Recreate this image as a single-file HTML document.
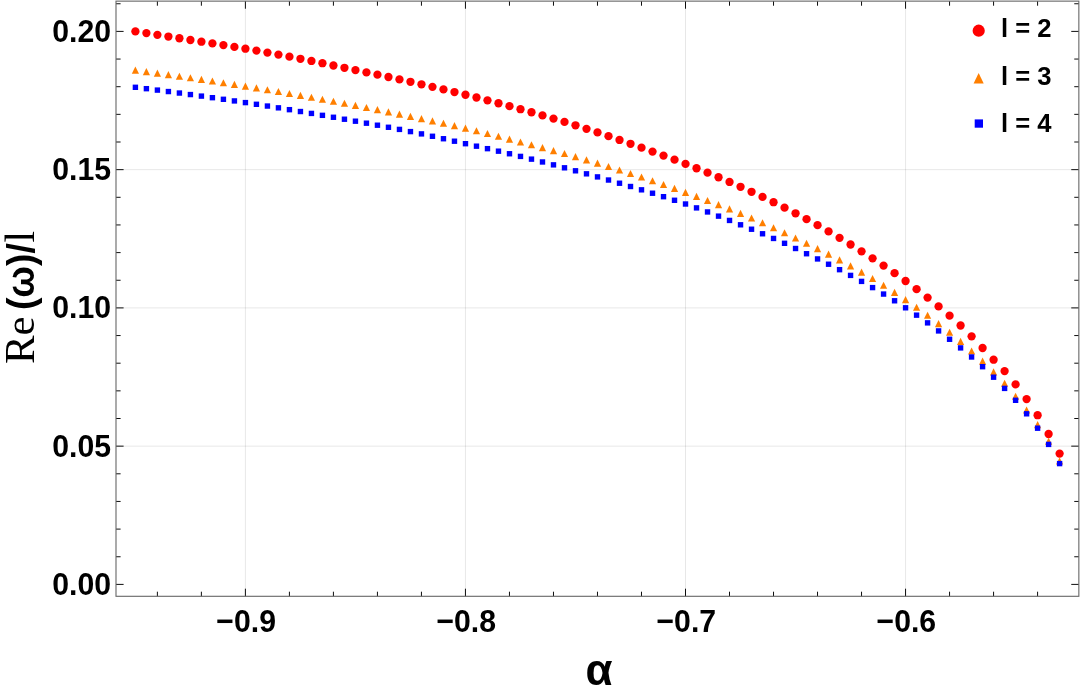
<!DOCTYPE html>
<html><head><meta charset="utf-8"><title>Re(w)/l vs alpha</title>
<style>html,body{margin:0;padding:0;background:#fff;}svg{display:block;will-change:transform;}text{font-family:"Liberation Sans",sans-serif;fill:#000;}.b{font-weight:bold;}.s{font-family:"Liberation Serif",serif;font-weight:normal;}</style></head><body>
<svg width="1080" height="694" viewBox="0 0 1080 694">
<rect x="0" y="0" width="1080" height="694" fill="#ffffff"/>
<g stroke="#000" stroke-opacity="0.095" stroke-width="1" fill="none">
<line x1="245.40" y1="1.13" x2="245.40" y2="596.3"/>
<line x1="465.45" y1="1.13" x2="465.45" y2="596.3"/>
<line x1="685.50" y1="1.13" x2="685.50" y2="596.3"/>
<line x1="905.55" y1="1.13" x2="905.55" y2="596.3"/>
<line x1="116.0" y1="446.15" x2="1078.85" y2="446.15"/>
<line x1="116.0" y1="307.90" x2="1078.85" y2="307.90"/>
<line x1="116.0" y1="169.65" x2="1078.85" y2="169.65"/>
</g>
<g stroke="#000" stroke-width="0.95" fill="none">
<line x1="157.38" y1="596.3" x2="157.38" y2="591.70"/>
<line x1="157.38" y1="1.13" x2="157.38" y2="5.73"/>
<line x1="201.39" y1="596.3" x2="201.39" y2="591.70"/>
<line x1="201.39" y1="1.13" x2="201.39" y2="5.73"/>
<line x1="245.40" y1="596.3" x2="245.40" y2="588.70"/>
<line x1="245.40" y1="1.13" x2="245.40" y2="8.73"/>
<line x1="289.41" y1="596.3" x2="289.41" y2="591.70"/>
<line x1="289.41" y1="1.13" x2="289.41" y2="5.73"/>
<line x1="333.42" y1="596.3" x2="333.42" y2="591.70"/>
<line x1="333.42" y1="1.13" x2="333.42" y2="5.73"/>
<line x1="377.43" y1="596.3" x2="377.43" y2="591.70"/>
<line x1="377.43" y1="1.13" x2="377.43" y2="5.73"/>
<line x1="421.44" y1="596.3" x2="421.44" y2="591.70"/>
<line x1="421.44" y1="1.13" x2="421.44" y2="5.73"/>
<line x1="465.45" y1="596.3" x2="465.45" y2="588.70"/>
<line x1="465.45" y1="1.13" x2="465.45" y2="8.73"/>
<line x1="509.46" y1="596.3" x2="509.46" y2="591.70"/>
<line x1="509.46" y1="1.13" x2="509.46" y2="5.73"/>
<line x1="553.47" y1="596.3" x2="553.47" y2="591.70"/>
<line x1="553.47" y1="1.13" x2="553.47" y2="5.73"/>
<line x1="597.48" y1="596.3" x2="597.48" y2="591.70"/>
<line x1="597.48" y1="1.13" x2="597.48" y2="5.73"/>
<line x1="641.49" y1="596.3" x2="641.49" y2="591.70"/>
<line x1="641.49" y1="1.13" x2="641.49" y2="5.73"/>
<line x1="685.50" y1="596.3" x2="685.50" y2="588.70"/>
<line x1="685.50" y1="1.13" x2="685.50" y2="8.73"/>
<line x1="729.51" y1="596.3" x2="729.51" y2="591.70"/>
<line x1="729.51" y1="1.13" x2="729.51" y2="5.73"/>
<line x1="773.52" y1="596.3" x2="773.52" y2="591.70"/>
<line x1="773.52" y1="1.13" x2="773.52" y2="5.73"/>
<line x1="817.53" y1="596.3" x2="817.53" y2="591.70"/>
<line x1="817.53" y1="1.13" x2="817.53" y2="5.73"/>
<line x1="861.54" y1="596.3" x2="861.54" y2="591.70"/>
<line x1="861.54" y1="1.13" x2="861.54" y2="5.73"/>
<line x1="905.55" y1="596.3" x2="905.55" y2="588.70"/>
<line x1="905.55" y1="1.13" x2="905.55" y2="8.73"/>
<line x1="949.56" y1="596.3" x2="949.56" y2="591.70"/>
<line x1="949.56" y1="1.13" x2="949.56" y2="5.73"/>
<line x1="993.57" y1="596.3" x2="993.57" y2="591.70"/>
<line x1="993.57" y1="1.13" x2="993.57" y2="5.73"/>
<line x1="1037.58" y1="596.3" x2="1037.58" y2="591.70"/>
<line x1="1037.58" y1="1.13" x2="1037.58" y2="5.73"/>
<line x1="116.0" y1="584.40" x2="123.60" y2="584.40"/>
<line x1="1078.85" y1="584.40" x2="1071.25" y2="584.40"/>
<line x1="116.0" y1="556.75" x2="120.60" y2="556.75"/>
<line x1="1078.85" y1="556.75" x2="1074.25" y2="556.75"/>
<line x1="116.0" y1="529.10" x2="120.60" y2="529.10"/>
<line x1="1078.85" y1="529.10" x2="1074.25" y2="529.10"/>
<line x1="116.0" y1="501.45" x2="120.60" y2="501.45"/>
<line x1="1078.85" y1="501.45" x2="1074.25" y2="501.45"/>
<line x1="116.0" y1="473.80" x2="120.60" y2="473.80"/>
<line x1="1078.85" y1="473.80" x2="1074.25" y2="473.80"/>
<line x1="116.0" y1="446.15" x2="123.60" y2="446.15"/>
<line x1="1078.85" y1="446.15" x2="1071.25" y2="446.15"/>
<line x1="116.0" y1="418.50" x2="120.60" y2="418.50"/>
<line x1="1078.85" y1="418.50" x2="1074.25" y2="418.50"/>
<line x1="116.0" y1="390.85" x2="120.60" y2="390.85"/>
<line x1="1078.85" y1="390.85" x2="1074.25" y2="390.85"/>
<line x1="116.0" y1="363.20" x2="120.60" y2="363.20"/>
<line x1="1078.85" y1="363.20" x2="1074.25" y2="363.20"/>
<line x1="116.0" y1="335.55" x2="120.60" y2="335.55"/>
<line x1="1078.85" y1="335.55" x2="1074.25" y2="335.55"/>
<line x1="116.0" y1="307.90" x2="123.60" y2="307.90"/>
<line x1="1078.85" y1="307.90" x2="1071.25" y2="307.90"/>
<line x1="116.0" y1="280.25" x2="120.60" y2="280.25"/>
<line x1="1078.85" y1="280.25" x2="1074.25" y2="280.25"/>
<line x1="116.0" y1="252.60" x2="120.60" y2="252.60"/>
<line x1="1078.85" y1="252.60" x2="1074.25" y2="252.60"/>
<line x1="116.0" y1="224.95" x2="120.60" y2="224.95"/>
<line x1="1078.85" y1="224.95" x2="1074.25" y2="224.95"/>
<line x1="116.0" y1="197.30" x2="120.60" y2="197.30"/>
<line x1="1078.85" y1="197.30" x2="1074.25" y2="197.30"/>
<line x1="116.0" y1="169.65" x2="123.60" y2="169.65"/>
<line x1="1078.85" y1="169.65" x2="1071.25" y2="169.65"/>
<line x1="116.0" y1="142.00" x2="120.60" y2="142.00"/>
<line x1="1078.85" y1="142.00" x2="1074.25" y2="142.00"/>
<line x1="116.0" y1="114.35" x2="120.60" y2="114.35"/>
<line x1="1078.85" y1="114.35" x2="1074.25" y2="114.35"/>
<line x1="116.0" y1="86.70" x2="120.60" y2="86.70"/>
<line x1="1078.85" y1="86.70" x2="1074.25" y2="86.70"/>
<line x1="116.0" y1="59.05" x2="120.60" y2="59.05"/>
<line x1="1078.85" y1="59.05" x2="1074.25" y2="59.05"/>
<line x1="116.0" y1="31.40" x2="123.60" y2="31.40"/>
<line x1="1078.85" y1="31.40" x2="1071.25" y2="31.40"/>
<line x1="116.0" y1="3.75" x2="120.60" y2="3.75"/>
<line x1="1078.85" y1="3.75" x2="1074.25" y2="3.75"/>
</g>
<rect x="116.0" y="1.13" width="962.8499999999999" height="595.17" fill="none" stroke="#666666" stroke-width="1.1"/>
<g fill="#ff0000">
<circle cx="135.40" cy="31.40" r="4.15"/>
<circle cx="146.40" cy="33.11" r="4.15"/>
<circle cx="157.41" cy="34.83" r="4.15"/>
<circle cx="168.41" cy="36.55" r="4.15"/>
<circle cx="179.41" cy="38.27" r="4.15"/>
<circle cx="190.41" cy="40.00" r="4.15"/>
<circle cx="201.42" cy="41.71" r="4.15"/>
<circle cx="212.42" cy="43.41" r="4.15"/>
<circle cx="223.42" cy="45.12" r="4.15"/>
<circle cx="234.42" cy="46.88" r="4.15"/>
<circle cx="245.43" cy="48.70" r="4.15"/>
<circle cx="256.43" cy="50.61" r="4.15"/>
<circle cx="267.43" cy="52.58" r="4.15"/>
<circle cx="278.43" cy="54.61" r="4.15"/>
<circle cx="289.44" cy="56.68" r="4.15"/>
<circle cx="300.44" cy="58.80" r="4.15"/>
<circle cx="311.44" cy="60.97" r="4.15"/>
<circle cx="322.44" cy="63.21" r="4.15"/>
<circle cx="333.44" cy="65.49" r="4.15"/>
<circle cx="344.45" cy="67.79" r="4.15"/>
<circle cx="355.45" cy="70.10" r="4.15"/>
<circle cx="366.45" cy="72.39" r="4.15"/>
<circle cx="377.45" cy="74.69" r="4.15"/>
<circle cx="388.46" cy="77.02" r="4.15"/>
<circle cx="399.46" cy="79.38" r="4.15"/>
<circle cx="410.46" cy="81.80" r="4.15"/>
<circle cx="421.47" cy="84.28" r="4.15"/>
<circle cx="432.47" cy="86.82" r="4.15"/>
<circle cx="443.47" cy="89.40" r="4.15"/>
<circle cx="454.47" cy="92.05" r="4.15"/>
<circle cx="465.48" cy="94.75" r="4.15"/>
<circle cx="476.48" cy="97.51" r="4.15"/>
<circle cx="487.48" cy="100.34" r="4.15"/>
<circle cx="498.48" cy="103.23" r="4.15"/>
<circle cx="509.49" cy="106.18" r="4.15"/>
<circle cx="520.49" cy="109.20" r="4.15"/>
<circle cx="531.49" cy="112.27" r="4.15"/>
<circle cx="542.49" cy="115.41" r="4.15"/>
<circle cx="553.50" cy="118.62" r="4.15"/>
<circle cx="564.50" cy="121.91" r="4.15"/>
<circle cx="575.50" cy="125.30" r="4.15"/>
<circle cx="586.50" cy="128.81" r="4.15"/>
<circle cx="597.50" cy="132.44" r="4.15"/>
<circle cx="608.51" cy="136.17" r="4.15"/>
<circle cx="619.51" cy="139.96" r="4.15"/>
<circle cx="630.51" cy="143.80" r="4.15"/>
<circle cx="641.51" cy="147.67" r="4.15"/>
<circle cx="652.52" cy="151.59" r="4.15"/>
<circle cx="663.52" cy="155.59" r="4.15"/>
<circle cx="674.52" cy="159.69" r="4.15"/>
<circle cx="685.52" cy="163.90" r="4.15"/>
<circle cx="696.53" cy="168.24" r="4.15"/>
<circle cx="707.53" cy="172.69" r="4.15"/>
<circle cx="718.53" cy="177.26" r="4.15"/>
<circle cx="729.53" cy="181.96" r="4.15"/>
<circle cx="740.54" cy="186.80" r="4.15"/>
<circle cx="751.54" cy="191.78" r="4.15"/>
<circle cx="762.54" cy="196.91" r="4.15"/>
<circle cx="773.54" cy="202.20" r="4.15"/>
<circle cx="784.55" cy="207.66" r="4.15"/>
<circle cx="795.55" cy="213.30" r="4.15"/>
<circle cx="806.55" cy="219.14" r="4.15"/>
<circle cx="817.55" cy="225.18" r="4.15"/>
<circle cx="828.56" cy="231.42" r="4.15"/>
<circle cx="839.56" cy="237.87" r="4.15"/>
<circle cx="850.56" cy="244.50" r="4.15"/>
<circle cx="861.56" cy="251.32" r="4.15"/>
<circle cx="872.57" cy="258.34" r="4.15"/>
<circle cx="883.57" cy="265.61" r="4.15"/>
<circle cx="894.57" cy="273.15" r="4.15"/>
<circle cx="905.57" cy="281.00" r="4.15"/>
<circle cx="916.58" cy="289.15" r="4.15"/>
<circle cx="927.58" cy="297.59" r="4.15"/>
<circle cx="938.58" cy="306.41" r="4.15"/>
<circle cx="949.58" cy="315.69" r="4.15"/>
<circle cx="960.59" cy="325.50" r="4.15"/>
<circle cx="971.59" cy="336.32" r="4.15"/>
<circle cx="982.59" cy="348.01" r="4.15"/>
<circle cx="993.59" cy="359.70" r="4.15"/>
<circle cx="1004.60" cy="371.10" r="4.15"/>
<circle cx="1015.60" cy="384.40" r="4.15"/>
<circle cx="1026.60" cy="399.10" r="4.15"/>
<circle cx="1037.61" cy="415.20" r="4.15"/>
<circle cx="1048.61" cy="434.00" r="4.15"/>
<circle cx="1059.61" cy="453.60" r="4.15"/>
</g>
<g fill="#ff7f00">
<polygon points="135.40,66.60 131.80,73.70 139.00,73.70"/>
<polygon points="146.40,68.06 142.80,75.16 150.00,75.16"/>
<polygon points="157.41,69.55 153.81,76.65 161.00,76.65"/>
<polygon points="168.41,71.07 164.81,78.17 172.01,78.17"/>
<polygon points="179.41,72.63 175.81,79.73 183.01,79.73"/>
<polygon points="190.41,74.22 186.81,81.32 194.01,81.32"/>
<polygon points="201.42,75.84 197.82,82.94 205.02,82.94"/>
<polygon points="212.42,77.49 208.82,84.59 216.02,84.59"/>
<polygon points="223.42,79.16 219.82,86.26 227.02,86.26"/>
<polygon points="234.42,80.87 230.82,87.97 238.02,87.97"/>
<polygon points="245.43,82.60 241.83,89.70 249.03,89.70"/>
<polygon points="256.43,84.37 252.83,91.47 260.03,91.47"/>
<polygon points="267.43,86.17 263.83,93.27 271.03,93.27"/>
<polygon points="278.43,88.01 274.83,95.11 282.03,95.11"/>
<polygon points="289.44,89.89 285.83,96.99 293.04,96.99"/>
<polygon points="300.44,91.80 296.84,98.90 304.04,98.90"/>
<polygon points="311.44,93.74 307.84,100.84 315.04,100.84"/>
<polygon points="322.44,95.72 318.84,102.82 326.04,102.82"/>
<polygon points="333.44,97.72 329.84,104.82 337.05,104.82"/>
<polygon points="344.45,99.75 340.85,106.85 348.05,106.85"/>
<polygon points="355.45,101.80 351.85,108.90 359.05,108.90"/>
<polygon points="366.45,103.90 362.85,111.00 370.05,111.00"/>
<polygon points="377.45,106.07 373.85,113.17 381.06,113.17"/>
<polygon points="388.46,108.28 384.86,115.38 392.06,115.38"/>
<polygon points="399.46,110.53 395.86,117.63 403.06,117.63"/>
<polygon points="410.46,112.80 406.86,119.90 414.06,119.90"/>
<polygon points="421.47,115.08 417.87,122.18 425.07,122.18"/>
<polygon points="432.47,117.37 428.87,124.47 436.07,124.47"/>
<polygon points="443.47,119.71 439.87,126.81 447.07,126.81"/>
<polygon points="454.47,122.11 450.87,129.21 458.07,129.21"/>
<polygon points="465.48,124.60 461.88,131.70 469.08,131.70"/>
<polygon points="476.48,127.21 472.88,134.31 480.08,134.31"/>
<polygon points="487.48,129.92 483.88,137.02 491.08,137.02"/>
<polygon points="498.48,132.71 494.88,139.81 502.08,139.81"/>
<polygon points="509.49,135.55 505.88,142.65 513.09,142.65"/>
<polygon points="520.49,138.40 516.89,145.50 524.09,145.50"/>
<polygon points="531.49,141.25 527.89,148.35 535.09,148.35"/>
<polygon points="542.49,144.12 538.89,151.22 546.09,151.22"/>
<polygon points="553.50,147.03 549.89,154.13 557.10,154.13"/>
<polygon points="564.50,150.02 560.90,157.12 568.10,157.12"/>
<polygon points="575.50,153.10 571.90,160.20 579.10,160.20"/>
<polygon points="586.50,156.29 582.90,163.39 590.10,163.39"/>
<polygon points="597.50,159.56 593.90,166.66 601.11,166.66"/>
<polygon points="608.51,162.93 604.91,170.03 612.11,170.03"/>
<polygon points="619.51,166.38 615.91,173.48 623.11,173.48"/>
<polygon points="630.51,169.90 626.91,177.00 634.11,177.00"/>
<polygon points="641.51,173.51 637.91,180.61 645.12,180.61"/>
<polygon points="652.52,177.20 648.92,184.30 656.12,184.30"/>
<polygon points="663.52,180.99 659.92,188.09 667.12,188.09"/>
<polygon points="674.52,184.86 670.92,191.96 678.12,191.96"/>
<polygon points="685.52,188.80 681.92,195.90 689.12,195.90"/>
<polygon points="696.53,192.81 692.93,199.91 700.13,199.91"/>
<polygon points="707.53,196.88 703.93,203.98 711.13,203.98"/>
<polygon points="718.53,201.06 714.93,208.16 722.13,208.16"/>
<polygon points="729.53,205.35 725.93,212.45 733.13,212.45"/>
<polygon points="740.54,209.80 736.94,216.90 744.14,216.90"/>
<polygon points="751.54,214.42 747.94,221.52 755.14,221.52"/>
<polygon points="762.54,219.21 758.94,226.31 766.14,226.31"/>
<polygon points="773.54,224.15 769.94,231.25 777.14,231.25"/>
<polygon points="784.55,229.22 780.95,236.32 788.15,236.32"/>
<polygon points="795.55,234.40 791.95,241.50 799.15,241.50"/>
<polygon points="806.55,239.67 802.95,246.77 810.15,246.77"/>
<polygon points="817.55,245.05 813.95,252.15 821.15,252.15"/>
<polygon points="828.56,250.59 824.96,257.69 832.16,257.69"/>
<polygon points="839.56,256.32 835.96,263.42 843.16,263.42"/>
<polygon points="850.56,262.30 846.96,269.40 854.16,269.40"/>
<polygon points="861.56,268.53 857.96,275.63 865.16,275.63"/>
<polygon points="872.57,275.02 868.97,282.12 876.17,282.12"/>
<polygon points="883.57,281.76 879.97,288.86 887.17,288.86"/>
<polygon points="894.57,288.78 890.97,295.88 898.17,295.88"/>
<polygon points="905.57,296.10 901.97,303.20 909.17,303.20"/>
<polygon points="916.58,303.74 912.98,310.84 920.18,310.84"/>
<polygon points="927.58,311.72 923.98,318.82 931.18,318.82"/>
<polygon points="938.58,320.05 934.98,327.15 942.18,327.15"/>
<polygon points="949.58,328.74 945.98,335.84 953.18,335.84"/>
<polygon points="960.59,337.80 956.99,344.90 964.19,344.90"/>
<polygon points="971.59,347.40 967.99,354.50 975.19,354.50"/>
<polygon points="982.59,357.62 978.99,364.72 986.19,364.72"/>
<polygon points="993.59,368.30 989.99,375.40 997.19,375.40"/>
<polygon points="1004.60,379.70 1001.00,386.80 1008.20,386.80"/>
<polygon points="1015.60,392.70 1012.00,399.80 1019.20,399.80"/>
<polygon points="1026.60,406.40 1023.00,413.50 1030.20,413.50"/>
<polygon points="1037.61,421.10 1034.01,428.20 1041.20,428.20"/>
<polygon points="1048.61,437.70 1045.01,444.80 1052.21,444.80"/>
<polygon points="1059.61,457.40 1056.01,464.50 1063.21,464.50"/>
</g>
<g fill="#0000ff">
<rect x="132.70" y="84.60" width="5.4" height="5.4"/>
<rect x="143.70" y="85.98" width="5.4" height="5.4"/>
<rect x="154.71" y="87.40" width="5.4" height="5.4"/>
<rect x="165.71" y="88.85" width="5.4" height="5.4"/>
<rect x="176.71" y="90.34" width="5.4" height="5.4"/>
<rect x="187.71" y="91.86" width="5.4" height="5.4"/>
<rect x="198.72" y="93.41" width="5.4" height="5.4"/>
<rect x="209.72" y="94.99" width="5.4" height="5.4"/>
<rect x="220.72" y="96.60" width="5.4" height="5.4"/>
<rect x="231.72" y="98.23" width="5.4" height="5.4"/>
<rect x="242.73" y="99.90" width="5.4" height="5.4"/>
<rect x="253.73" y="101.60" width="5.4" height="5.4"/>
<rect x="264.73" y="103.35" width="5.4" height="5.4"/>
<rect x="275.73" y="105.14" width="5.4" height="5.4"/>
<rect x="286.74" y="106.97" width="5.4" height="5.4"/>
<rect x="297.74" y="108.83" width="5.4" height="5.4"/>
<rect x="308.74" y="110.72" width="5.4" height="5.4"/>
<rect x="319.74" y="112.64" width="5.4" height="5.4"/>
<rect x="330.75" y="114.57" width="5.4" height="5.4"/>
<rect x="341.75" y="116.53" width="5.4" height="5.4"/>
<rect x="352.75" y="118.50" width="5.4" height="5.4"/>
<rect x="363.75" y="120.49" width="5.4" height="5.4"/>
<rect x="374.75" y="122.51" width="5.4" height="5.4"/>
<rect x="385.76" y="124.58" width="5.4" height="5.4"/>
<rect x="396.76" y="126.70" width="5.4" height="5.4"/>
<rect x="407.76" y="128.90" width="5.4" height="5.4"/>
<rect x="418.77" y="131.19" width="5.4" height="5.4"/>
<rect x="429.77" y="133.58" width="5.4" height="5.4"/>
<rect x="440.77" y="136.03" width="5.4" height="5.4"/>
<rect x="451.77" y="138.51" width="5.4" height="5.4"/>
<rect x="462.78" y="141.00" width="5.4" height="5.4"/>
<rect x="473.78" y="143.48" width="5.4" height="5.4"/>
<rect x="484.78" y="145.96" width="5.4" height="5.4"/>
<rect x="495.78" y="148.48" width="5.4" height="5.4"/>
<rect x="506.79" y="151.05" width="5.4" height="5.4"/>
<rect x="517.79" y="153.70" width="5.4" height="5.4"/>
<rect x="528.79" y="156.44" width="5.4" height="5.4"/>
<rect x="539.79" y="159.27" width="5.4" height="5.4"/>
<rect x="550.79" y="162.16" width="5.4" height="5.4"/>
<rect x="561.80" y="165.11" width="5.4" height="5.4"/>
<rect x="572.80" y="168.10" width="5.4" height="5.4"/>
<rect x="583.80" y="171.13" width="5.4" height="5.4"/>
<rect x="594.80" y="174.20" width="5.4" height="5.4"/>
<rect x="605.81" y="177.33" width="5.4" height="5.4"/>
<rect x="616.81" y="180.53" width="5.4" height="5.4"/>
<rect x="627.81" y="183.80" width="5.4" height="5.4"/>
<rect x="638.81" y="187.13" width="5.4" height="5.4"/>
<rect x="649.82" y="190.52" width="5.4" height="5.4"/>
<rect x="660.82" y="193.99" width="5.4" height="5.4"/>
<rect x="671.82" y="197.58" width="5.4" height="5.4"/>
<rect x="682.82" y="201.30" width="5.4" height="5.4"/>
<rect x="693.83" y="205.19" width="5.4" height="5.4"/>
<rect x="704.83" y="209.25" width="5.4" height="5.4"/>
<rect x="715.83" y="213.44" width="5.4" height="5.4"/>
<rect x="726.83" y="217.74" width="5.4" height="5.4"/>
<rect x="737.84" y="222.10" width="5.4" height="5.4"/>
<rect x="748.84" y="226.53" width="5.4" height="5.4"/>
<rect x="759.84" y="231.07" width="5.4" height="5.4"/>
<rect x="770.84" y="235.75" width="5.4" height="5.4"/>
<rect x="781.85" y="240.60" width="5.4" height="5.4"/>
<rect x="792.85" y="245.80" width="5.4" height="5.4"/>
<rect x="803.85" y="251.03" width="5.4" height="5.4"/>
<rect x="814.85" y="256.24" width="5.4" height="5.4"/>
<rect x="825.86" y="261.53" width="5.4" height="5.4"/>
<rect x="836.86" y="266.98" width="5.4" height="5.4"/>
<rect x="847.86" y="272.70" width="5.4" height="5.4"/>
<rect x="858.86" y="278.69" width="5.4" height="5.4"/>
<rect x="869.87" y="284.90" width="5.4" height="5.4"/>
<rect x="880.87" y="291.36" width="5.4" height="5.4"/>
<rect x="891.87" y="298.08" width="5.4" height="5.4"/>
<rect x="902.87" y="305.10" width="5.4" height="5.4"/>
<rect x="913.88" y="312.46" width="5.4" height="5.4"/>
<rect x="924.88" y="320.17" width="5.4" height="5.4"/>
<rect x="935.88" y="328.22" width="5.4" height="5.4"/>
<rect x="946.88" y="336.57" width="5.4" height="5.4"/>
<rect x="957.89" y="345.20" width="5.4" height="5.4"/>
<rect x="968.89" y="354.29" width="5.4" height="5.4"/>
<rect x="979.89" y="364.00" width="5.4" height="5.4"/>
<rect x="990.89" y="374.50" width="5.4" height="5.4"/>
<rect x="1001.90" y="385.70" width="5.4" height="5.4"/>
<rect x="1012.90" y="397.60" width="5.4" height="5.4"/>
<rect x="1023.90" y="411.10" width="5.4" height="5.4"/>
<rect x="1034.90" y="425.50" width="5.4" height="5.4"/>
<rect x="1045.91" y="441.70" width="5.4" height="5.4"/>
<rect x="1056.91" y="460.90" width="5.4" height="5.4"/>
</g>
<g class="b" font-size="31.4">
<text transform="translate(52.31,594.80) scale(0.963,1.022)" text-anchor="start">0.00</text>
<text transform="translate(52.31,456.55) scale(0.963,1.022)" text-anchor="start">0.05</text>
<text transform="translate(52.31,318.30) scale(0.963,1.022)" text-anchor="start">0.10</text>
<text transform="translate(52.31,180.05) scale(0.963,1.022)" text-anchor="start">0.15</text>
<text transform="translate(52.31,41.80) scale(0.963,1.022)" text-anchor="start">0.20</text>
<text transform="translate(216.34,632.05) scale(0.963,1.022)" text-anchor="start">−0.9</text>
<text transform="translate(436.39,632.05) scale(0.963,1.022)" text-anchor="start">−0.8</text>
<text transform="translate(656.44,632.05) scale(0.963,1.022)" text-anchor="start">−0.7</text>
<text transform="translate(876.49,632.05) scale(0.963,1.022)" text-anchor="start">−0.6</text>
</g>
<text class="b" x="599" y="684.75" font-size="44" text-anchor="middle">α</text>
<g transform="translate(0,364.1) rotate(-90)">
</g>
<g transform="translate(34.0,364.1) rotate(-90)" fill="#000">
<text class="s" x="0" y="0" font-size="43">Re</text>
<text class="b" x="54" y="0.3" font-size="38" textLength="67" lengthAdjust="spacingAndGlyphs">(ω)/</text>
<text class="s" x="121.5" y="0" font-size="42">l</text>
</g>
<circle cx="978.7" cy="30.7" r="6.1" fill="#ff0000"/>
<polygon points="978.65,73.1 973.6,83.6 983.7,83.6" fill="#ff7f00"/>
<rect x="974.7" y="119.4" width="8.3" height="8.3" fill="#0000ff"/>
<g class="b" font-size="25.6">
<text x="1001.1" y="37.20">l = 2</text>
<text x="1001.1" y="84.50">l = 3</text>
<text x="1001.1" y="131.80">l = 4</text>
</g>
</svg></body></html>
